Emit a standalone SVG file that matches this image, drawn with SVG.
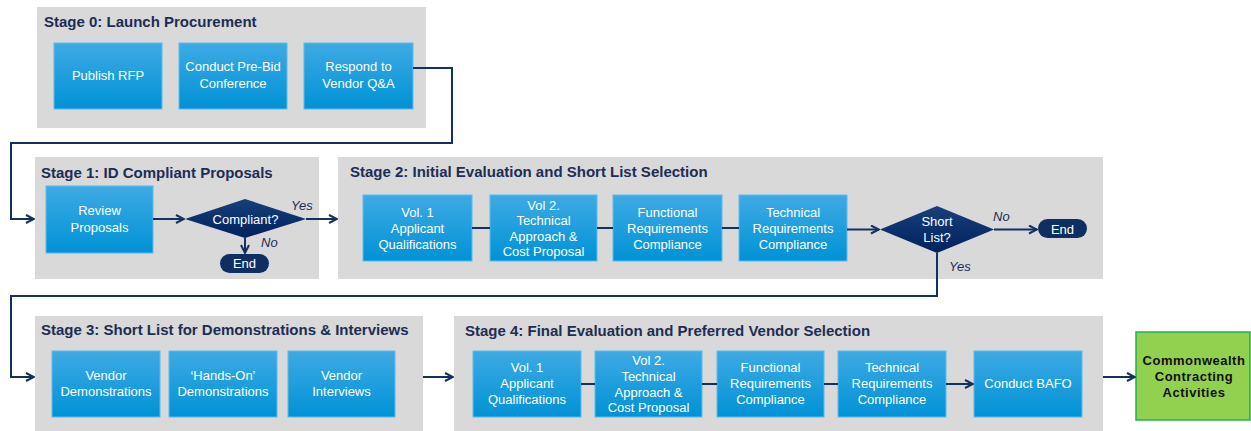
<svg xmlns="http://www.w3.org/2000/svg" width="1251" height="431" viewBox="0 0 1251 431">
<defs>
<linearGradient id="gBlue" x1="0" y1="0" x2="0" y2="1"><stop offset="0" stop-color="#3eaae4"/><stop offset="1" stop-color="#0092d6"/></linearGradient>
<linearGradient id="gNavy" x1="0" y1="0" x2="0" y2="1"><stop offset="0" stop-color="#17407a"/><stop offset="1" stop-color="#00215e"/></linearGradient>
<marker id="arr" viewBox="0 0 10 10" refX="9" refY="5" markerWidth="10" markerHeight="10" markerUnits="userSpaceOnUse" orient="auto"><path d="M1,1 L9,5 L1,9" fill="none" stroke="#14305f" stroke-width="2"/></marker>
<style>
.panel{fill:#d9d9d9}
.title{font-family:"Liberation Sans",Arial,sans-serif;font-weight:bold;font-size:15px;fill:#1c2d55}
.box{fill:url(#gBlue);stroke:#5cbcee;stroke-width:1}
.bt{font-family:"Liberation Sans",Arial,sans-serif;font-size:13px;fill:#ffffff;text-anchor:middle}
.dia{fill:url(#gNavy)}
.end{fill:#0f2f62}
.lbl{font-family:"Liberation Sans",Arial,sans-serif;font-size:13px;font-style:italic;fill:#1c2d55}
.con{fill:none;stroke:#14305f;stroke-width:2}
.green{fill:#92d050;stroke:#22b14c;stroke-width:1.5}
.gt{font-family:"Liberation Sans",Arial,sans-serif;font-size:13px;font-weight:bold;fill:#111;text-anchor:middle;letter-spacing:0.5px}
</style>
</defs>

<g id="stage0">
<rect class="panel" x="37" y="7" width="389" height="121"/>
<text class="title" x="44" y="27">Stage 0: Launch Procurement</text>
</g>
<g id="publish-rfp"><rect class="box" x="54" y="43" width="108" height="66"/><text class="bt" x="108" y="80">Publish RFP</text></g>
<g id="pre-bid"><rect class="box" x="179" y="43" width="108" height="66"/><text class="bt" x="233" y="71">Conduct Pre-Bid</text><text class="bt" x="233" y="88">Conference</text></g>
<g id="respond-qa"><rect class="box" x="304" y="43" width="109" height="66"/><text class="bt" x="358.5" y="71">Respond to</text><text class="bt" x="358.5" y="88">Vendor Q&amp;A</text></g>

<g id="stage1">
<rect class="panel" x="35" y="157" width="284" height="122"/>
<text class="title" x="41" y="178">Stage 1: ID Compliant Proposals</text>
</g>
<g id="review"><rect class="box" x="46" y="186" width="107" height="67"/><text class="bt" x="99.5" y="215">Review</text><text class="bt" x="99.5" y="232">Proposals</text></g>
<g id="compliant"><polygon class="dia" points="185,219 245,199 306,219 245,238"/><text class="bt" x="245.5" y="224">Compliant?</text></g>
<g id="end1"><rect class="end" x="220" y="254" width="49" height="19" rx="9.5"/><text class="bt" x="244.5" y="268">End</text></g>

<g id="stage2">
<rect class="panel" x="338" y="157" width="765" height="122"/>
<text class="title" x="350" y="177">Stage 2: Initial Evaluation and Short List Selection</text>
</g>
<g id="s2-vol1"><rect class="box" x="363" y="195" width="109" height="66"/><text class="bt" x="417.5" y="217">Vol. 1</text><text class="bt" x="417.5" y="233">Applicant</text><text class="bt" x="417.5" y="249">Qualifications</text></g>
<g id="s2-vol2"><rect class="box" x="490" y="195" width="107" height="66"/><text class="bt" x="543.5" y="210">Vol 2.</text><text class="bt" x="543.5" y="225">Technical</text><text class="bt" x="543.5" y="240.5">Approach &amp;</text><text class="bt" x="543.5" y="255.5">Cost Proposal</text></g>
<g id="s2-func"><rect class="box" x="613" y="195" width="109" height="66"/><text class="bt" x="667.5" y="217">Functional</text><text class="bt" x="667.5" y="233">Requirements</text><text class="bt" x="667.5" y="249">Compliance</text></g>
<g id="s2-tech"><rect class="box" x="739" y="195" width="108" height="66"/><text class="bt" x="793" y="217">Technical</text><text class="bt" x="793" y="233">Requirements</text><text class="bt" x="793" y="249">Compliance</text></g>
<g id="shortlist"><polygon class="dia" points="880,229.5 937,206 994,229.5 937,253"/><text class="bt" x="937" y="225.5">Short</text><text class="bt" x="937" y="241.5">List?</text></g>
<g id="end2"><rect class="end" x="1038" y="219" width="49" height="19" rx="9.5"/><text class="bt" x="1062.5" y="233.5">End</text></g>

<g id="stage3">
<rect class="panel" x="35" y="316" width="388" height="115"/>
<text class="title" x="41" y="335">Stage 3: Short List for Demonstrations &amp; Interviews</text>
</g>
<g id="vendor-demos"><rect class="box" x="52" y="351" width="108" height="66"/><text class="bt" x="106" y="379.5">Vendor</text><text class="bt" x="106" y="395.5">Demonstrations</text></g>
<g id="hands-on"><rect class="box" x="169" y="351" width="108" height="66"/><text class="bt" x="223" y="379.5">‘Hands-On’</text><text class="bt" x="223" y="395.5">Demonstrations</text></g>
<g id="vendor-interviews"><rect class="box" x="288" y="351" width="107" height="66"/><text class="bt" x="341.5" y="379.5">Vendor</text><text class="bt" x="341.5" y="395.5">Interviews</text></g>

<g id="stage4">
<rect class="panel" x="454" y="316" width="649" height="115"/>
<text class="title" x="465" y="336">Stage 4: Final Evaluation and Preferred Vendor Selection</text>
</g>
<g id="s4-vol1"><rect class="box" x="473" y="351" width="108" height="66"/><text class="bt" x="527" y="372">Vol. 1</text><text class="bt" x="527" y="388">Applicant</text><text class="bt" x="527" y="403.5">Qualifications</text></g>
<g id="s4-vol2"><rect class="box" x="595" y="351" width="107" height="66"/><text class="bt" x="648.5" y="365">Vol 2.</text><text class="bt" x="648.5" y="381">Technical</text><text class="bt" x="648.5" y="396.5">Approach &amp;</text><text class="bt" x="648.5" y="411.5">Cost Proposal</text></g>
<g id="s4-func"><rect class="box" x="717" y="351" width="107" height="66"/><text class="bt" x="770.5" y="372">Functional</text><text class="bt" x="770.5" y="388">Requirements</text><text class="bt" x="770.5" y="403.5">Compliance</text></g>
<g id="s4-tech"><rect class="box" x="838" y="351" width="108" height="66"/><text class="bt" x="892" y="372">Technical</text><text class="bt" x="892" y="388">Requirements</text><text class="bt" x="892" y="403.5">Compliance</text></g>
<g id="bafo"><rect class="box" x="974" y="351" width="108" height="66"/><text class="bt" x="1028" y="387.5">Conduct BAFO</text></g>

<g id="commonwealth"><rect class="green" x="1136" y="332" width="114" height="88"/><text class="gt" x="1194" y="365">Commonwealth</text><text class="gt" x="1194" y="381">Contracting</text><text class="gt" x="1194" y="397">Activities</text></g>

<g id="connectors">
<path class="con" d="M413,68 H452 V143 H11 V219 H34" marker-end="url(#arr)"/>
<path class="con" d="M153,219 H184" marker-end="url(#arr)"/>
<path class="con" d="M306,219 H337" marker-end="url(#arr)"/>
<path class="con" d="M245,238 V253" marker-end="url(#arr)"/>
<path class="con" d="M472,228 H490 M597,228 H613 M722,228 H739"/>
<path class="con" d="M847,229.5 H879" marker-end="url(#arr)"/>
<path class="con" d="M994,229.5 H1037" marker-end="url(#arr)"/>
<path class="con" d="M937,253 V296 H11 V377 H34" marker-end="url(#arr)"/>
<path class="con" d="M423,377 H453" marker-end="url(#arr)"/>
<path class="con" d="M581,384 H595 M702,384 H717 M824,384 H838"/>
<path class="con" d="M946,384 H973" marker-end="url(#arr)"/>
<path class="con" d="M1103,377 H1135" marker-end="url(#arr)"/>
<text class="lbl" x="291" y="210">Yes</text>
<text class="lbl" x="261" y="247">No</text>
<text class="lbl" x="993" y="221">No</text>
<text class="lbl" x="949" y="271">Yes</text>
</g>
</svg>
